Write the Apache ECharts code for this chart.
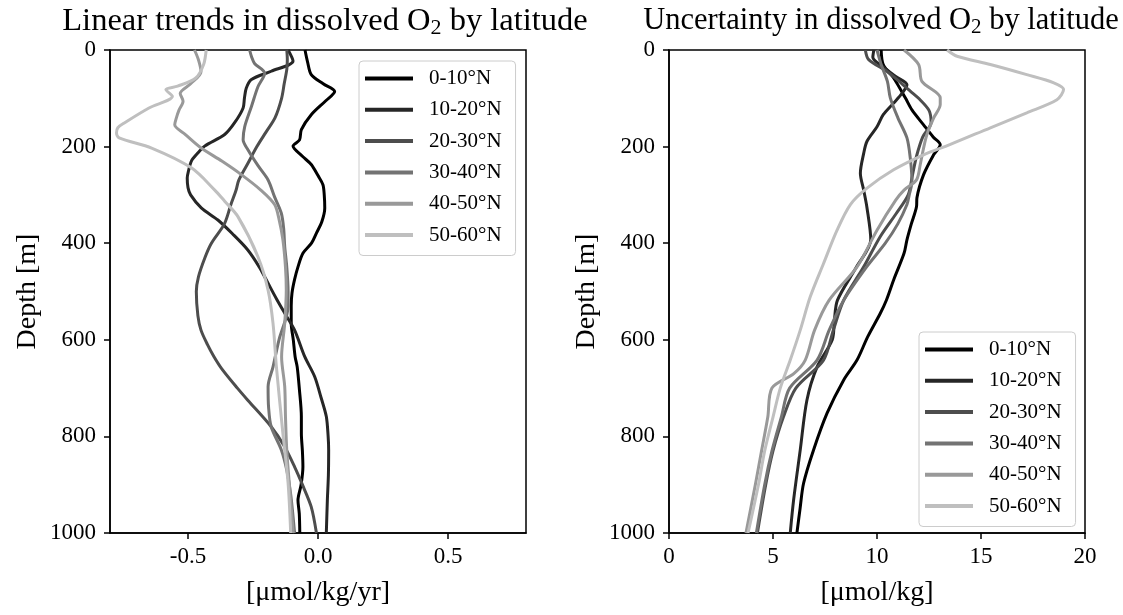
<!DOCTYPE html>
<html><head><meta charset="utf-8">
<script src="https://cdn.jsdelivr.net/npm/echarts@6/dist/echarts.min.js"></script>
<style>html,body{margin:0;padding:0;background:#fff}#c{width:1123px;height:615px}</style>
</head><body><div id="c"></div>
<script>
// ---------- DATA ----------
const names = ['0-10°N','10-20°N','20-30°N','30-40°N','40-50°N','50-60°N'];
const colors = ['#000000','#262626','#4d4d4d','#737373','#999999','#bfbfbf'];
const depthTicks = [0,200,400,600,800,1000];
const trendTicks = [-0.5,0,0.5];
const uncTicks = [0,5,10,15,20];

// Left panel: linear trend [umol/kg/yr] vs depth [m]
const trendD0 = [0,25,51,70,86,105,134,165,186,199,220,237,260,279,300,327,355,379,400,421,449,475,503,530,566,600,635,656,700,759,794,830,863,900,932,960,1000];
const trendV0 = [-0.05,-0.04,-0.026,0.02,0.064,0.03,-0.026,-0.064,-0.071,-0.096,-0.06,-0.026,0.0,0.019,0.024,0.026,0.015,-0.006,-0.025,-0.058,-0.077,-0.09,-0.1,-0.103,-0.103,-0.095,-0.088,-0.08,-0.072,-0.064,-0.064,-0.06,-0.058,-0.065,-0.077,-0.072,-0.07];
const trendD1 = [0,23,44,61,79,100,120,150,175,199,215,230,250,265,285,300,327,352,380,414,450,483,515,545,580,635,676,720,759,800,828,880,932,1000];
const trendV1 = [-0.115,-0.096,-0.18,-0.256,-0.276,-0.283,-0.288,-0.32,-0.359,-0.436,-0.465,-0.487,-0.498,-0.503,-0.5,-0.49,-0.449,-0.385,-0.33,-0.27,-0.225,-0.192,-0.16,-0.128,-0.09,-0.051,-0.013,0.012,0.032,0.039,0.041,0.04,0.036,0.032];
const trendD2 = [0,20,40,70,100,140,170,200,235,270,290,320,360,400,430,470,500,550,580,610,635,660,700,725,780,820,863,900,946,1000];
const trendV2 = [-0.12,-0.118,-0.12,-0.13,-0.14,-0.165,-0.2,-0.235,-0.27,-0.305,-0.315,-0.335,-0.36,-0.41,-0.435,-0.46,-0.468,-0.462,-0.45,-0.425,-0.4,-0.37,-0.31,-0.27,-0.18,-0.13,-0.09,-0.06,-0.026,-0.006];
const trendD3 = [0,15,28,48,76,117,159,186,207,240,269,304,338,370,407,450,500,531,600,656,697,740,780,828,870,920,1000];
const trendV3 = [-0.263,-0.255,-0.244,-0.205,-0.231,-0.256,-0.282,-0.288,-0.269,-0.23,-0.192,-0.167,-0.141,-0.132,-0.128,-0.12,-0.115,-0.115,-0.15,-0.173,-0.192,-0.19,-0.18,-0.141,-0.12,-0.105,-0.09];
const trendD4 = [0,20,45,70,90,106,125,141,155,175,203,230,258,290,320,350,393,450,497,566,635,697,760,830,900,1000];
const trendV4 = [-0.475,-0.46,-0.45,-0.49,-0.53,-0.519,-0.535,-0.545,-0.551,-0.51,-0.449,-0.37,-0.295,-0.22,-0.167,-0.15,-0.135,-0.125,-0.122,-0.128,-0.14,-0.128,-0.125,-0.12,-0.11,-0.095];
const trendD5 = [0,30,58,75,82,96,120,151,161,172,182,203,244,290,313,345,428,497,566,656,794,897,1000];
const trendV5 = [-0.43,-0.44,-0.47,-0.54,-0.585,-0.56,-0.65,-0.745,-0.77,-0.775,-0.765,-0.64,-0.487,-0.397,-0.359,-0.308,-0.231,-0.192,-0.173,-0.16,-0.135,-0.115,-0.105];

// Right panel: uncertainty [umol/kg] vs depth [m]
const uncD0 = [0,30,58,99,124,155,180,196,217,258,306,324,360,393,421,476,518,545,594,642,683,752,828,897,950,1000];
const uncV0 = [10.2,10.3,10.8,11.36,11.68,12.24,12.7,13.04,12.72,12.24,11.92,11.9,11.65,11.44,11.3,10.8,10.45,10.16,9.55,9.04,8.4,7.6,6.95,6.47,6.3,6.15];
const uncD1 = [0,15,35,55,72,90,110,134,159,189,214,255,290,327,393,450,518,560,600,656,725,828,932,1000];
const uncV1 = [9.85,9.8,10.3,10.9,11.44,11.2,10.8,10.3,10.0,9.52,9.36,9.2,9.36,9.52,9.7,9.0,8.1,7.95,7.85,7.12,6.63,6.31,5.99,5.83];
const uncD2 = [0,20,45,70,85,100,125,150,180,220,260,300,340,386,449,518,580,642,700,760,830,900,1000];
const uncV2 = [9.44,9.6,10.5,11.2,11.6,12.0,12.5,12.6,12.2,11.9,11.7,11.5,10.9,10.16,9.36,8.4,7.9,7.43,6.1,5.5,5.0,4.65,4.25];
const uncD3 = [0,30,65,99,140,182,224,272,300,320,360,400,449,518,580,642,700,760,830,900,1000];
const uncV3 = [10.0,10.2,10.5,10.64,11.0,11.44,11.6,11.68,11.55,11.44,11.0,10.4,9.5,8.4,7.7,7.12,5.8,5.4,4.95,4.6,4.2];
const uncD4 = [0,30,65,99,113,141,175,203,237,269,290,311,373,449,518,580,642,670,700,760,830,900,1000];
const uncV4 = [11.3,12.0,12.16,13.04,13.04,12.72,12.4,12.24,12.08,11.9,11.3,10.9,10.0,9.04,7.7,7.0,6.55,6.0,4.95,4.75,4.45,4.15,3.7];
const uncD5 = [0,13,30,51,68,82,103,130,161,196,217,248,286,320,373,442,511,580,642,700,760,830,900,1000];
const uncV5 = [13.37,13.85,15.45,17.2,18.5,18.97,18.65,17.2,15.45,13.5,12.24,10.8,9.52,8.72,8.08,7.43,6.79,6.31,5.83,5.35,5.0,4.6,4.3,3.8];

const trendD = [trendD0,trendD1,trendD2,trendD3,trendD4,trendD5];
const trendV = [trendV0,trendV1,trendV2,trendV3,trendV4,trendV5];
const uncD = [uncD0,uncD1,uncD2,uncD3,uncD4,uncD5];
const uncV = [uncV0,uncV1,uncV2,uncV3,uncV4,uncV5];

// ---------- CHART ----------
const FF = '"Liberation Serif","Times New Roman",serif';
const pair = (d, v) => d.map((dd, i) => [v[i], dd]);

const series = [];
names.forEach((n, i) => {
  series.push({type:'line', name:n, xAxisIndex:0, yAxisIndex:0, data: pair(trendD[i], trendV[i]),
    symbol:'none', showSymbol:false, smooth:0.3, color:colors[i], lineStyle:{width:3, color:colors[i]}});
});
names.forEach((n, i) => {
  series.push({type:'line', name:n, xAxisIndex:1, yAxisIndex:1, data: pair(uncD[i], uncV[i]),
    symbol:'none', showSymbol:false, smooth:0.3, color:colors[i], lineStyle:{width:3, color:colors[i]}});
});

const lineBlack = {color:'#000', width:1.5};

const yAxisFor = (gi) => ({
  type:'value', gridIndex:gi, inverse:true, min:0, max:1000, interval:200,
  axisLine:{show:true, onZero:false, lineStyle:lineBlack},
  axisTick:{show:true, inside:false, length:6, lineStyle:lineBlack},
  splitLine:{show:false},
  name:'Depth [m]', nameLocation:'middle', nameGap:68,
  nameTextStyle:{color:'#000', fontFamily:FF, fontSize:28},
  axisLabel:{color:'#000', fontFamily:FF, fontSize:23, margin:14, formatter:(v)=>String(v)}
});

const legendFor = (left, top) => ({
  orient:'vertical', left:left, top:top, data:names,
  icon:'rect', itemWidth:48, itemHeight:4, itemGap:10.3,
  textStyle:{color:'#000', fontFamily:FF, fontSize:21, lineHeight:20, padding:[0,0,0,11]},
  borderColor:'#cccccc', borderWidth:1, borderRadius:4,
  padding:[7,14,10,6], backgroundColor:'#fff'
});

const titleStyle = (fs) => ({color:'#000', fontFamily:FF, fontSize:fs, fontWeight:'normal',
  rich:{s:{fontFamily:FF, fontSize:Math.round(fs*0.68), color:'#000', lineHeight:22, padding:[14,0,0,0]}}});

const option = {
  backgroundColor:'#fff',
  animation:false,
  title:[
    {text:'Linear trends in dissolved O{s|2} by latitude', left:320, top:0, textAlign:'center', textStyle:titleStyle(32.5)},
    {text:'Uncertainty in dissolved O{s|2} by latitude', left:876, top:0, textAlign:'center', textStyle:titleStyle(30.5)}
  ],
  grid:[
    {left:110, top:50, width:416, height:483, show:true, borderColor:'#000', borderWidth:1.5, backgroundColor:'transparent'},
    {left:669, top:50, width:416, height:483, show:true, borderColor:'#000', borderWidth:1.5, backgroundColor:'transparent'}
  ],
  xAxis:[
    {type:'value', gridIndex:0, min:-0.8, max:0.8,
      axisLine:{show:true, onZero:false, lineStyle:lineBlack},
      splitLine:{show:false},
      name:'[μmol/kg/yr]', nameLocation:'middle', nameGap:46,
      nameTextStyle:{color:'#000', fontFamily:FF, fontSize:28},
      axisTick:{show:true, length:6, customValues:trendTicks, lineStyle:lineBlack},
      axisLabel:{color:'#000', fontFamily:FF, fontSize:23, margin:12, customValues:trendTicks,
        formatter:(v)=>Number(v).toFixed(1)}},
    {type:'value', gridIndex:1, min:0, max:20, interval:5,
      axisLine:{show:true, onZero:false, lineStyle:lineBlack},
      splitLine:{show:false},
      name:'[μmol/kg]', nameLocation:'middle', nameGap:46,
      nameTextStyle:{color:'#000', fontFamily:FF, fontSize:28},
      axisTick:{show:true, length:6, lineStyle:lineBlack},
      axisLabel:{color:'#000', fontFamily:FF, fontSize:23, margin:12, formatter:(v)=>String(v)}}
  ],
  yAxis:[yAxisFor(0), yAxisFor(1)],
  legend:[legendFor(359, 61), legendFor(919, 332)],
  series:series
};

const chart = echarts.init(document.getElementById('c'), null, {renderer:'canvas'});
chart.setOption(option);
</script></body></html>
